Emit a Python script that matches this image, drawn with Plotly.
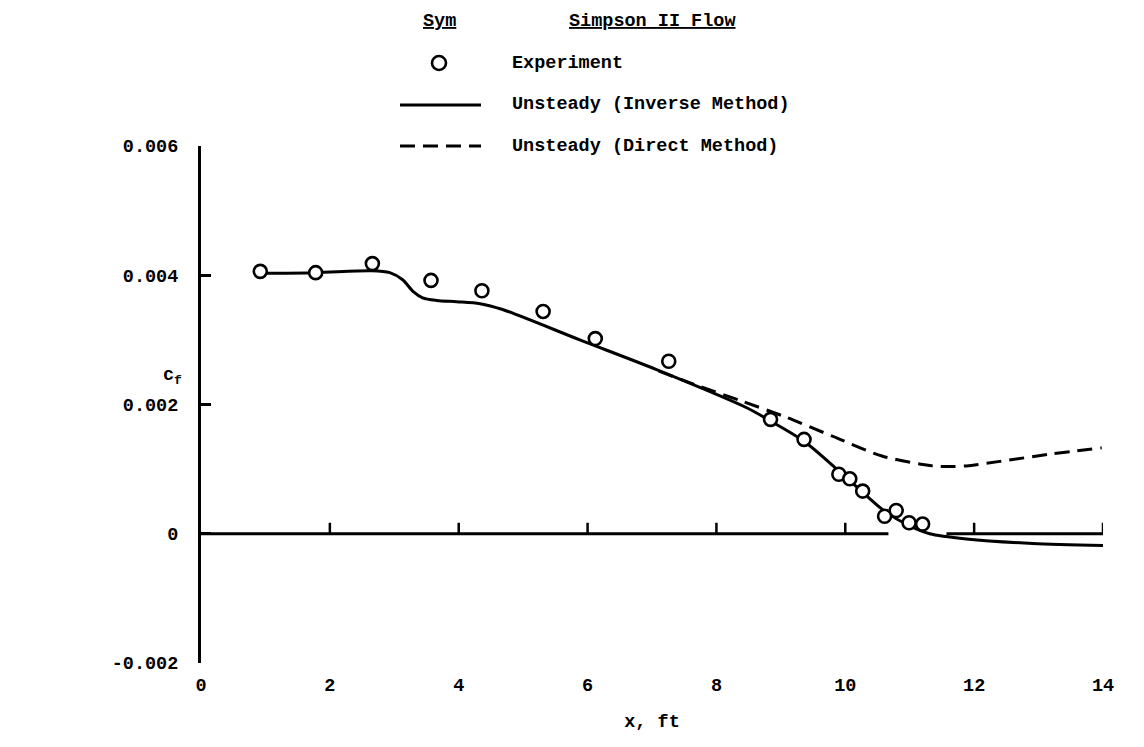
import plotly.graph_objects as go

# Skin-friction coefficient vs. streamwise distance, Simpson II flow
exp_x = [0.92, 1.78, 2.66, 3.57, 4.36, 5.31, 6.12, 7.26, 8.84, 9.36,
         9.90, 10.07, 10.27, 10.61, 10.79, 10.99, 11.20]
exp_cf = [0.00406, 0.00404, 0.00418, 0.00392, 0.00376, 0.00344, 0.00302,
          0.00267, 0.00177, 0.00146, 0.00092, 0.00085, 0.00066, 0.00027,
          0.00036, 0.00017, 0.00015]

inv_x = [0.92, 1.78, 2.65, 2.93, 3.13, 3.29, 3.44, 3.66, 3.97, 4.33, 4.68,
         5.88, 7.07, 8.47, 8.83, 9.36, 9.90, 10.25, 10.61, 11.00, 11.31,
         11.88, 12.91, 14.00]
inv_cf = [0.00403, 0.00404, 0.00407, 0.00404, 0.00393, 0.00375, 0.00365,
          0.00361, 0.00359, 0.00356, 0.00347, 0.00300, 0.00254, 0.00195,
          0.00175, 0.00143, 0.00097, 0.00066, 0.00035, 0.00012, 0.00000,
          -0.00008, -0.00015, -0.00018]

dir_x = [7.10, 7.74, 8.40, 9.09, 9.80, 10.58, 11.36, 11.62, 11.88, 12.40,
         13.17, 13.98]
dir_cf = [0.00252, 0.00228, 0.00205, 0.00180, 0.00151, 0.00120, 0.00105,
          0.00104, 0.00105, 0.00112, 0.00123, 0.00133]

# Zero reference line, broken where the curves cross it
zero_x = [0, 10.67, None, 11.57, 14]
zero_y = [0, 0, None, 0, 0]
zero_ticks = [2, 4, 6, 8, 10, 12, 14]

x_ticks = [0, 2, 4, 6, 8, 10, 12, 14]
x_labels = ["0", "2", "4", "6", "8", "10", "12", "14"]
y_ticks = [-0.002, 0, 0.002, 0.004, 0.006]
y_labels = ["-0.002", "0", "0.002", "0.004", "0.006"]

FONT = "Liberation Mono, DejaVu Sans Mono, monospace"
FS = 18.5
W, H = 1144, 747
L, R, T, B = 201, 41, 146, 84
PW, PH = W - L - R, H - T - B


def px(xp):
    return (xp - L) / PW


def py(yp):
    return (H - B - yp) / PH


def txt(s):
    return "<b>" + s + "</b>"


fig = go.Figure()

fig.add_trace(go.Scatter(x=zero_x, y=zero_y, mode="lines",
                         line=dict(color="black", width=3),
                         hoverinfo="skip", showlegend=False))
fig.add_trace(go.Scatter(x=dir_x, y=dir_cf, mode="lines",
                         line=dict(color="black", width=3, dash="15px,8px",
                                   shape="spline", smoothing=0.8),
                         showlegend=False))
fig.add_trace(go.Scatter(x=inv_x, y=inv_cf, mode="lines",
                         line=dict(color="black", width=3,
                                   shape="spline", smoothing=0.8),
                         showlegend=False))
fig.add_trace(go.Scatter(x=exp_x, y=exp_cf, mode="markers",
                         marker=dict(symbol="circle", size=13, color="white",
                                     line=dict(color="black", width=2.6)),
                         showlegend=False))

shapes = []
for xv in zero_ticks:
    shapes.append(dict(type="line", xref="x", yref="y", x0=xv, x1=xv,
                       ysizemode="pixel", yanchor=0, y0=0, y1=11,
                       line=dict(color="black", width=2.5)))

# Legend key
shapes.append(dict(type="circle", xref="paper", yref="paper",
                   xsizemode="pixel", ysizemode="pixel",
                   xanchor=px(439), yanchor=py(63),
                   x0=-7, x1=7, y0=-7, y1=7,
                   line=dict(color="black", width=2.6), fillcolor="white"))
shapes.append(dict(type="line", xref="paper", yref="paper",
                   x0=px(400), x1=px(481), y0=py(105), y1=py(105),
                   line=dict(color="black", width=3)))
shapes.append(dict(type="line", xref="paper", yref="paper",
                   x0=px(400), x1=px(481), y0=py(146), y1=py(146),
                   line=dict(color="black", width=3, dash="15px,8px")))

annotations = [
    dict(text=txt("<u>Sym</u>"), x=px(439), y=py(21), xanchor="center"),
    dict(text=txt("<u>Simpson II Flow</u>"), x=px(567), y=py(21), xanchor="left"),
    dict(text=txt("Experiment"), x=px(510), y=py(63), xanchor="left"),
    dict(text=txt("Unsteady (Inverse Method)"), x=px(510), y=py(105), xanchor="left"),
    dict(text=txt("Unsteady (Direct Method)"), x=px(510), y=py(146), xanchor="left"),
    dict(text=txt("c<sub>f</sub>"), x=px(172), y=py(376), xanchor="center"),
]
for a in annotations:
    a.update(xref="paper", yref="paper", yanchor="middle", showarrow=False,
             font=dict(family=FONT, size=FS, color="black"))

fig.update_layout(
    width=W, height=H,
    margin=dict(l=L, r=R, t=T, b=B, pad=0),
    paper_bgcolor="white", plot_bgcolor="white",
    font=dict(family=FONT, size=FS, color="black"),
    shapes=shapes, annotations=annotations,
    xaxis=dict(range=[0, 14], tickvals=x_ticks,
               ticktext=[txt(s) for s in x_labels],
               showline=False, showgrid=False, zeroline=False, ticks="",
               ticklabelstandoff=8,
               title=dict(text=txt("x, ft"), standoff=18,
                          font=dict(family=FONT, size=FS))),
    yaxis=dict(range=[-0.002, 0.006], tickvals=y_ticks,
               ticktext=[txt(s) for s in y_labels],
               showline=True, linecolor="black", linewidth=3,
               ticks="inside", ticklen=10, tickwidth=2.5, tickcolor="black",
               showgrid=False, zeroline=False, ticklabelstandoff=16),
    showlegend=False,
)

fig.write_html("out.html")
